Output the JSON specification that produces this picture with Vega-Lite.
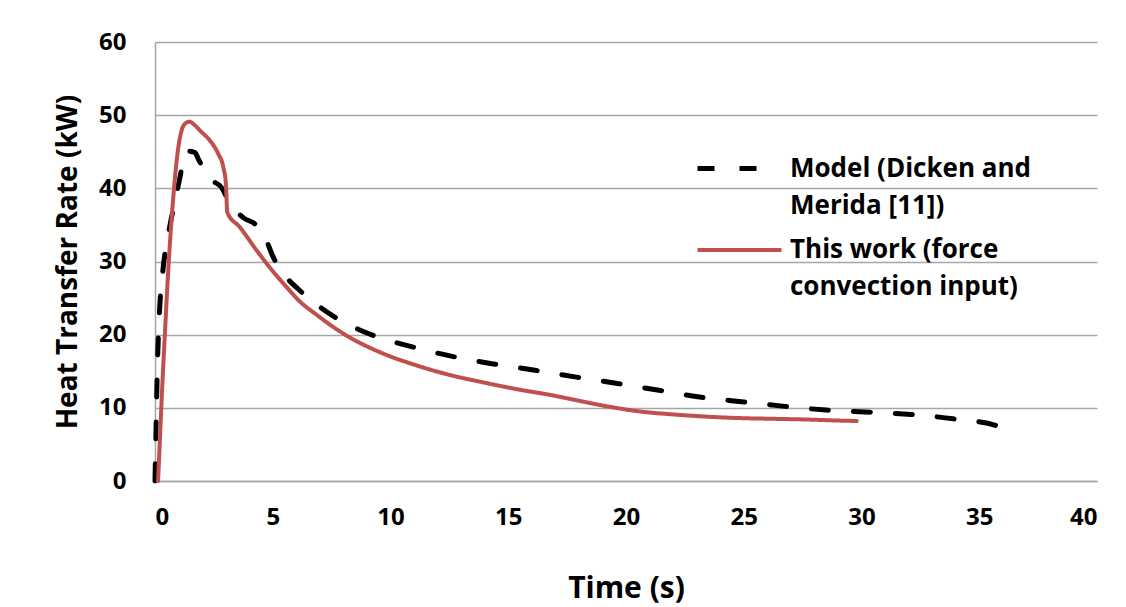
{
  "$schema": "https://vega.github.io/schema/vega-lite/v6.json",
  "width": 942,
  "height": 439,
  "autosize": {"type": "none"},
  "padding": {"left": 155, "top": 42, "right": 29, "bottom": 126},
  "background": "white",
  "config": {
    "view": {"stroke": null},
    "font": "Open Sans"
  },
  "data": {
    "values": [
      {"t": 0, "v": 0, "s": "Model (Dicken and Merida [11])"},
      {"t": 0.04, "v": 6.5, "s": "Model (Dicken and Merida [11])"},
      {"t": 0.1, "v": 15.5, "s": "Model (Dicken and Merida [11])"},
      {"t": 0.18, "v": 22.4, "s": "Model (Dicken and Merida [11])"},
      {"t": 0.35, "v": 29.2, "s": "Model (Dicken and Merida [11])"},
      {"t": 0.57, "v": 33.8, "s": "Model (Dicken and Merida [11])"},
      {"t": 0.85, "v": 38.3, "s": "Model (Dicken and Merida [11])"},
      {"t": 1.06, "v": 41.5, "s": "Model (Dicken and Merida [11])"},
      {"t": 1.23, "v": 44.2, "s": "Model (Dicken and Merida [11])"},
      {"t": 1.35, "v": 45.1, "s": "Model (Dicken and Merida [11])"},
      {"t": 1.7, "v": 44.9, "s": "Model (Dicken and Merida [11])"},
      {"t": 1.84, "v": 44.0, "s": "Model (Dicken and Merida [11])"},
      {"t": 2.34, "v": 41.3, "s": "Model (Dicken and Merida [11])"},
      {"t": 2.83, "v": 40.1, "s": "Model (Dicken and Merida [11])"},
      {"t": 3.18, "v": 37.9, "s": "Model (Dicken and Merida [11])"},
      {"t": 3.75, "v": 36.0, "s": "Model (Dicken and Merida [11])"},
      {"t": 4.32, "v": 34.9, "s": "Model (Dicken and Merida [11])"},
      {"t": 4.67, "v": 33.3, "s": "Model (Dicken and Merida [11])"},
      {"t": 5.02, "v": 30.6, "s": "Model (Dicken and Merida [11])"},
      {"t": 5.59, "v": 27.8, "s": "Model (Dicken and Merida [11])"},
      {"t": 6.16, "v": 26.0, "s": "Model (Dicken and Merida [11])"},
      {"t": 7.64, "v": 22.4, "s": "Model (Dicken and Merida [11])"},
      {"t": 9.27, "v": 19.9, "s": "Model (Dicken and Merida [11])"},
      {"t": 10.97, "v": 18.3, "s": "Model (Dicken and Merida [11])"},
      {"t": 12.67, "v": 17.0, "s": "Model (Dicken and Merida [11])"},
      {"t": 14.37, "v": 16.0, "s": "Model (Dicken and Merida [11])"},
      {"t": 16.2, "v": 15.1, "s": "Model (Dicken and Merida [11])"},
      {"t": 17.9, "v": 14.2, "s": "Model (Dicken and Merida [11])"},
      {"t": 19.7, "v": 13.3, "s": "Model (Dicken and Merida [11])"},
      {"t": 21.4, "v": 12.4, "s": "Model (Dicken and Merida [11])"},
      {"t": 23.2, "v": 11.45, "s": "Model (Dicken and Merida [11])"},
      {"t": 25.0, "v": 10.8, "s": "Model (Dicken and Merida [11])"},
      {"t": 26.75, "v": 10.2, "s": "Model (Dicken and Merida [11])"},
      {"t": 28.5, "v": 9.7, "s": "Model (Dicken and Merida [11])"},
      {"t": 30.4, "v": 9.4, "s": "Model (Dicken and Merida [11])"},
      {"t": 32.1, "v": 9.1, "s": "Model (Dicken and Merida [11])"},
      {"t": 33.9, "v": 8.5, "s": "Model (Dicken and Merida [11])"},
      {"t": 35.7, "v": 7.6, "s": "Model (Dicken and Merida [11])"},
      {"t": 36.1, "v": 7.1, "s": "Model (Dicken and Merida [11])"},
      {"t": 0.13, "v": 0, "s": "This work (force convection input)"},
      {"t": 0.2, "v": 5, "s": "This work (force convection input)"},
      {"t": 0.28, "v": 11, "s": "This work (force convection input)"},
      {"t": 0.42, "v": 20.1, "s": "This work (force convection input)"},
      {"t": 0.57, "v": 29.2, "s": "This work (force convection input)"},
      {"t": 0.71, "v": 36.0, "s": "This work (force convection input)"},
      {"t": 0.85, "v": 41.5, "s": "This work (force convection input)"},
      {"t": 0.99, "v": 45.6, "s": "This work (force convection input)"},
      {"t": 1.13, "v": 47.9, "s": "This work (force convection input)"},
      {"t": 1.3, "v": 48.9, "s": "This work (force convection input)"},
      {"t": 1.46, "v": 49.1, "s": "This work (force convection input)"},
      {"t": 1.7, "v": 48.6, "s": "This work (force convection input)"},
      {"t": 1.91, "v": 47.9, "s": "This work (force convection input)"},
      {"t": 2.34, "v": 46.5, "s": "This work (force convection input)"},
      {"t": 2.69, "v": 44.7, "s": "This work (force convection input)"},
      {"t": 2.9, "v": 42.9, "s": "This work (force convection input)"},
      {"t": 3.01, "v": 40.6, "s": "This work (force convection input)"},
      {"t": 3.07, "v": 36.7, "s": "This work (force convection input)"},
      {"t": 3.6, "v": 34.7, "s": "This work (force convection input)"},
      {"t": 4.32, "v": 31.5, "s": "This work (force convection input)"},
      {"t": 5.02, "v": 28.6, "s": "This work (force convection input)"},
      {"t": 5.45, "v": 27.0, "s": "This work (force convection input)"},
      {"t": 6.16, "v": 24.5, "s": "This work (force convection input)"},
      {"t": 6.87, "v": 22.7, "s": "This work (force convection input)"},
      {"t": 7.5, "v": 21.2, "s": "This work (force convection input)"},
      {"t": 8.28, "v": 19.6, "s": "This work (force convection input)"},
      {"t": 9.0, "v": 18.4, "s": "This work (force convection input)"},
      {"t": 9.7, "v": 17.4, "s": "This work (force convection input)"},
      {"t": 11.1, "v": 15.8, "s": "This work (force convection input)"},
      {"t": 12.5, "v": 14.5, "s": "This work (force convection input)"},
      {"t": 13.9, "v": 13.5, "s": "This work (force convection input)"},
      {"t": 15.36, "v": 12.55, "s": "This work (force convection input)"},
      {"t": 16.8, "v": 11.75, "s": "This work (force convection input)"},
      {"t": 17.8, "v": 11.1, "s": "This work (force convection input)"},
      {"t": 19.2, "v": 10.2, "s": "This work (force convection input)"},
      {"t": 20.6, "v": 9.5, "s": "This work (force convection input)"},
      {"t": 22.0, "v": 9.1, "s": "This work (force convection input)"},
      {"t": 23.4, "v": 8.8, "s": "This work (force convection input)"},
      {"t": 24.8, "v": 8.6, "s": "This work (force convection input)"},
      {"t": 26.25, "v": 8.5, "s": "This work (force convection input)"},
      {"t": 27.7, "v": 8.4, "s": "This work (force convection input)"},
      {"t": 29.1, "v": 8.25, "s": "This work (force convection input)"},
      {"t": 29.8, "v": 8.2, "s": "This work (force convection input)"}
    ]
  },
  "mark": {"type": "line", "interpolate": "monotone", "strokeCap": "round", "clip": false},
  "encoding": {
    "x": {
      "field": "t", "type": "quantitative",
      "scale": {"domain": [0, 40], "nice": false},
      "axis": {
        "title": "Time (s)", "values": [0, 5, 10, 15, 20, 25, 30, 35, 40],
        "grid": false, "ticks": false, "domainColor": "#a6a6a6", "domainWidth": 1.5,
        "labelFont": "Open Sans", "labelFontWeight": "bold", "labelFontSize": 24, "labelColor": "#000000", "labelPadding": 24,
        "titleFont": "Open Sans", "titleFontWeight": "bold", "titleFontSize": 30, "titleColor": "#000000", "titlePadding": 44
      }
    },
    "y": {
      "field": "v", "type": "quantitative",
      "scale": {"domain": [0, 60], "nice": false},
      "axis": {
        "title": "Heat Transfer Rate (kW)", "values": [0, 10, 20, 30, 40, 50, 60],
        "grid": true, "gridColor": "#a6a6a6", "gridWidth": 1.5, "ticks": false,
        "domainColor": "#a6a6a6", "domainWidth": 1.5,
        "labelFont": "Open Sans", "labelFontWeight": "bold", "labelFontSize": 24, "labelColor": "#000000", "labelPadding": 29,
        "titleFont": "Open Sans", "titleFontWeight": "bold", "titleFontSize": 28, "titleColor": "#000000", "titlePadding": 16
      }
    },
    "color": {
      "field": "s", "type": "nominal",
      "scale": {"domain": ["Model (Dicken and Merida [11])", "This work (force convection input)"], "range": ["#000000", "#c0504d"]},
      "legend": {
        "title": null, "orient": "none", "legendX": 568, "legendY": 110,
        "symbolType": "M-3,0L3,0", "symbolSize": 784, "symbolStrokeWidth": 5,
        "labelFont": "Open Sans", "labelFontWeight": "bold", "labelFontSize": 26, "labelColor": "#000000",
        "labelLimit": 600, "labelOffset": 34, "rowPadding": 15,
        "labelExpr": "datum.label == 'Model (Dicken and Merida [11])' ? ['Model (Dicken and', 'Merida [11])'] : ['This work (force', 'convection input)']",
        "encode": {
          "symbols": {"update": {"strokeDash": [{"test": "datum.value == 'Model (Dicken and Merida [11])'", "value": [30, 14]}, {"value": [1, 0]}]}},
          "labels": {"update": {"lineHeight": {"value": 37}}}
        }
      }
    },
    "strokeDash": {
      "field": "s", "type": "nominal",
      "scale": {"domain": ["Model (Dicken and Merida [11])", "This work (force convection input)"], "range": [[17, 25], [1, 0]]},
      "legend": null
    },
    "strokeWidth": {
      "field": "s", "type": "nominal",
      "scale": {"domain": ["Model (Dicken and Merida [11])", "This work (force convection input)"], "range": [5, 4]},
      "legend": null
    }
  }
}
